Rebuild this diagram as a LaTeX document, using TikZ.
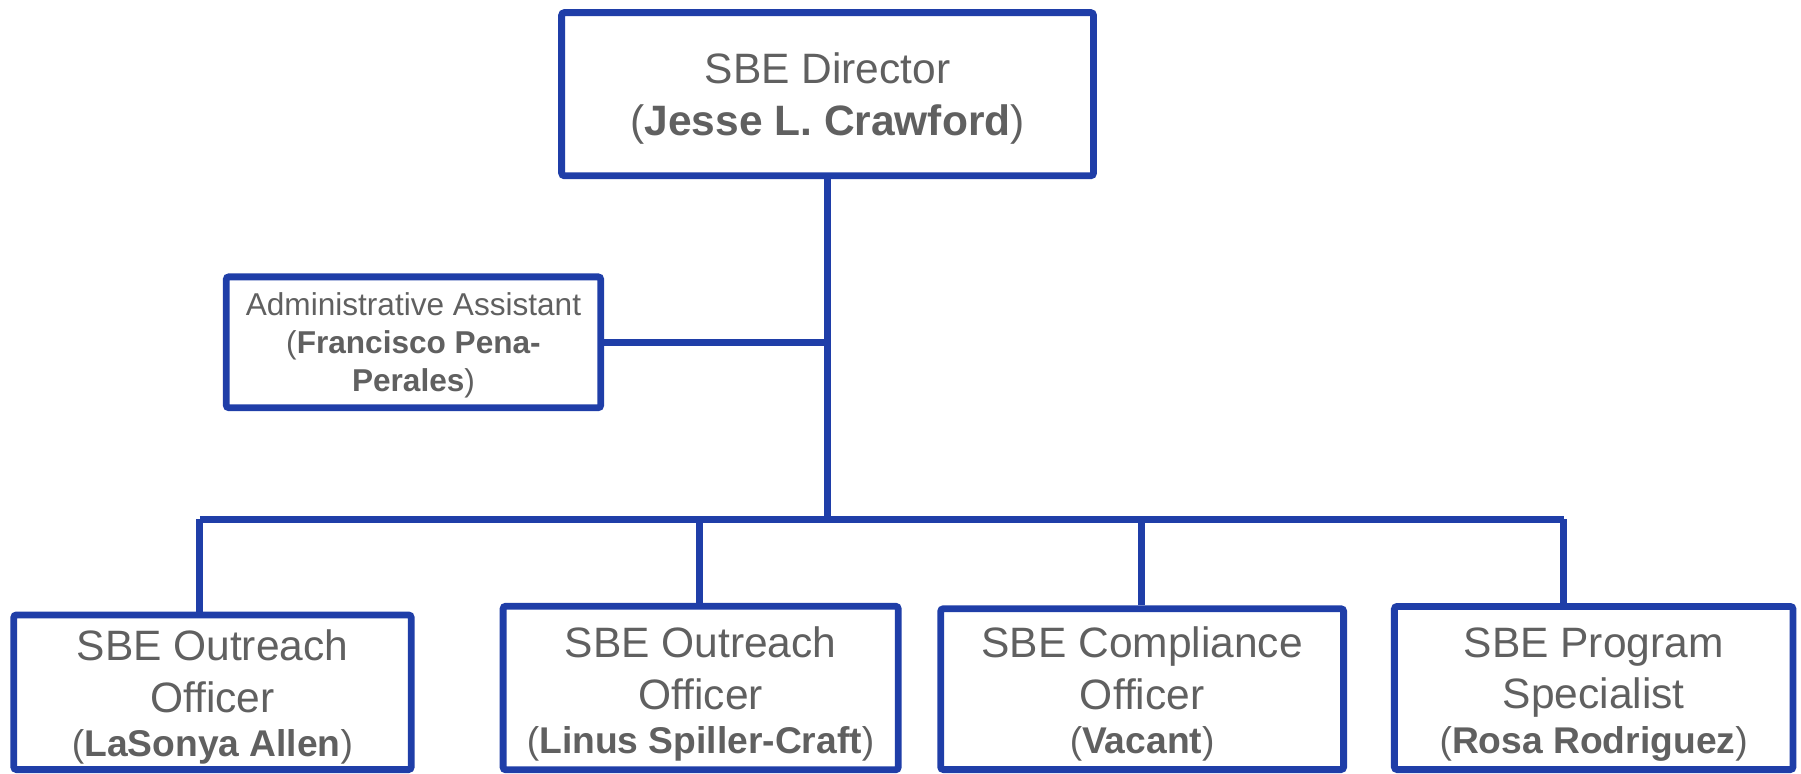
\documentclass[tikz,border=0pt]{standalone}
\usepackage{fontspec}
\setmainfont{Liberation Sans}
\usepackage{xcolor}
\definecolor{orgblue}{RGB}{31,62,168}
\definecolor{orggray}{RGB}{96,96,96}
\newcommand{\personfont}{\fontsize{16.2}{19.3}\selectfont}

\begin{document}
\begin{tikzpicture}[x=0.5pt,y=-0.5pt,
  post/.style={draw=orgblue,line width=3pt,rounded corners=1.2pt,fill=white,
    text=orggray,align=center,inner sep=0pt,font=\fontsize{18.5}{22.5}\selectfont},
  link/.style={draw=orgblue,line width=3pt}]
\useasboundingbox (0,0) rectangle (1568,673);
\node[post,minimum width=231.5pt,minimum height=71pt] (dir) at (720.5,82) {\rule{0pt}{16.9pt}SBE Director\\(\textbf{Jesse L. Crawford})};
\node[post,minimum width=163pt,minimum height=57pt,font=\fontsize{13.75}{16.5}\selectfont] (admin) at (360,298) {\rule{0pt}{12.9pt}Administrative Assistant\\(\textbf{Francisco Pena-}\\\textbf{Perales})};
\node[post,minimum width=173pt,minimum height=67.3pt] (out1) at (185,602.7) {\rule{0pt}{17.7pt}SBE Outreach\\Officer\\[-3.2pt]{\personfont(\textbf{LaSonya Allen})}};
\node[post,minimum width=172pt,minimum height=71.2pt] (out2) at (610,599) {\rule{0pt}{18.5pt}SBE Outreach\\Officer\\[-3.2pt]{\personfont(\textbf{Linus Spiller-Craft})}};
\node[post,minimum width=175.4pt,minimum height=70pt] (comp) at (994.4,600) {\rule{0pt}{17.5pt}SBE Compliance\\Officer\\[-3.2pt]{\personfont(\textbf{Vacant})}};
\node[post,minimum width=173.5pt,minimum height=71pt] (prog) at (1387.5,599) {\rule{0pt}{18.5pt}SBE Program\\Specialist\\[-3.2pt]{\personfont(\textbf{Rosa Rodriguez})}};
% bus line
\coordinate (hub) at (720.5,452);
\coordinate (b1) at (174,452);
\coordinate (b2) at (608.7,452);
\coordinate (b3) at (993.7,452);
\coordinate (b4) at (1361.5,452);
\draw[link] (dir.south) -- (hub);
\draw[link] (admin.east) -- (admin.east -| dir.south);
\draw[link] (b1) -- (b4);
\draw[link] (b1) -- (b1 |- out1.north);
\draw[link] (b2) -- (b2 |- out2.north);
\draw[link] (b3) -- (b3 |- comp.north);
\draw[link] (b4) -- (b4 |- prog.north);
\end{tikzpicture}
\end{document}
